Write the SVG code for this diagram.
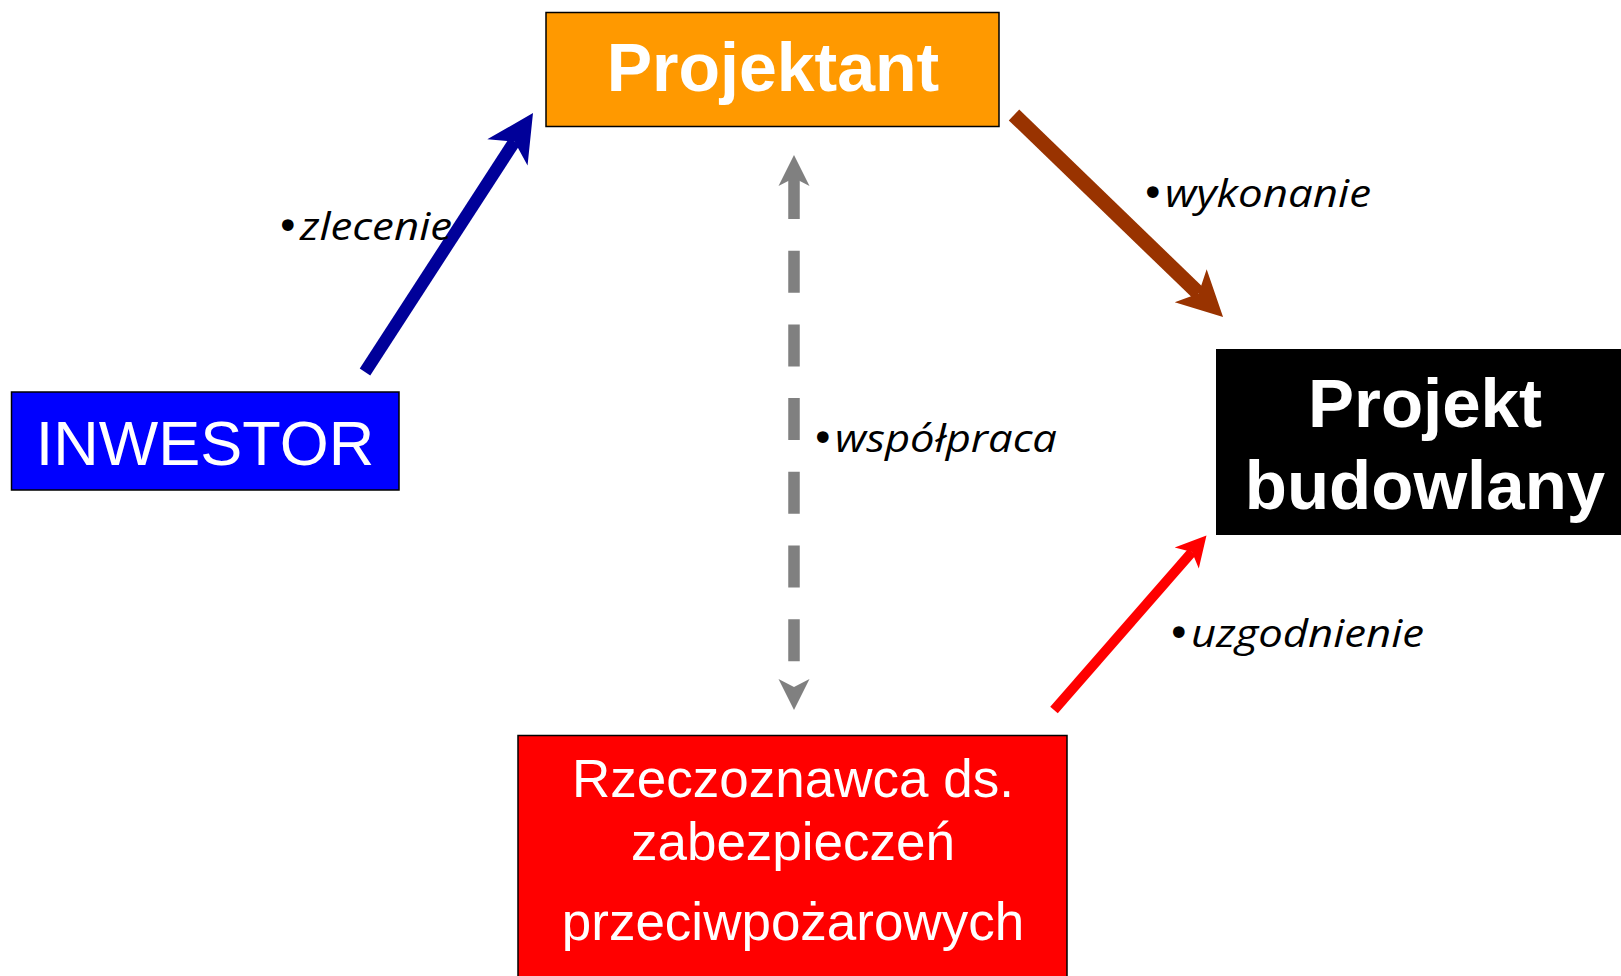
<svg xmlns="http://www.w3.org/2000/svg" width="1621" height="976" viewBox="0 0 1621 976">
<style>
.box{stroke:#000;stroke-width:1.5}
.nb{font-family:"Liberation Sans",Arial,sans-serif;font-weight:bold;fill:#fff;text-anchor:middle}
.nr{font-family:"Liberation Sans",Arial,sans-serif;fill:#fff;text-anchor:middle}
.lbl{font-family:"Open Sans","Noto Sans",sans-serif;font-style:italic;font-size:38px;fill:#000}
.bul{font-family:"DejaVu Sans",sans-serif;font-style:normal;font-size:40px}
</style>
<defs>
<marker id="mBlue" markerUnits="userSpaceOnUse" markerWidth="48" markerHeight="50" viewBox="0 -25 48 50" refX="13" refY="0" orient="auto" overflow="visible">
<path d="M0,-24 L47,0 L0,24 L13,0 Z" fill="#000099"/>
</marker>
<marker id="mBrown" markerUnits="userSpaceOnUse" markerWidth="46" markerHeight="48" viewBox="0 -24 46 48" refX="11" refY="0" orient="auto" overflow="visible">
<path d="M0,-23 L45,0 L0,23 L11,0 Z" fill="#993300"/>
</marker>
<marker id="mGray" markerUnits="userSpaceOnUse" markerWidth="32" markerHeight="32" viewBox="0 -16 32 32" refX="8" refY="0" orient="auto-start-reverse" overflow="visible">
<path d="M0,-15.5 L31,0 L0,15.5 L8,0 Z" fill="#808080"/>
</marker>
<marker id="mRed" markerUnits="userSpaceOnUse" markerWidth="31" markerHeight="34" viewBox="0 -17 31 34" refX="8" refY="0" orient="auto" overflow="visible">
<path d="M0,-16 L30,0 L0,16 L8,0 Z" fill="#FF0000"/>
</marker>
</defs>
<rect width="1621" height="976" fill="#fff"/>

<g id="connectors" fill="none">
<line x1="365" y1="372" x2="514.5" y2="141.5" stroke="#000099" stroke-width="12.5" marker-end="url(#mBlue)"/>
<line x1="1014" y1="115" x2="1198.6" y2="293.4" stroke="#993300" stroke-width="15" marker-end="url(#mBrown)"/>
<line x1="794" y1="178" x2="794" y2="687" stroke="#808080" stroke-width="11.5" stroke-dasharray="42 31.7" stroke-dashoffset="1" marker-start="url(#mGray)" marker-end="url(#mGray)"/>
<line x1="1054" y1="710" x2="1192" y2="552" stroke="#FF0000" stroke-width="10" marker-end="url(#mRed)"/>
</g>

<g id="labels">
<text class="lbl" x="276" y="240"><tspan class="bul">•</tspan><tspan x="300" textLength="152" lengthAdjust="spacingAndGlyphs">zlecenie</tspan></text>
<text class="lbl" x="1141" y="207"><tspan class="bul">•</tspan><tspan x="1165" textLength="206" lengthAdjust="spacingAndGlyphs">wykonanie</tspan></text>
<text class="lbl" x="811" y="452"><tspan class="bul">•</tspan><tspan x="835" textLength="222" lengthAdjust="spacingAndGlyphs">współpraca</tspan></text>
<text class="lbl" x="1167" y="647"><tspan class="bul">•</tspan><tspan x="1191" textLength="233" lengthAdjust="spacingAndGlyphs">uzgodnienie</tspan></text>
</g>

<g id="projektant">
<rect class="box" x="546" y="12.5" width="453" height="114" fill="#FF9900"/>
<text class="nb" x="773" y="91" font-size="68">Projektant</text>
</g>

<g id="inwestor">
<rect class="box" x="11.5" y="392" width="387.5" height="98" fill="#0000FF"/>
<text class="nr" x="205" y="465" font-size="63">INWESTOR</text>
</g>

<g id="projekt-budowlany">
<rect x="1216" y="349" width="410" height="186" fill="#000"/>
<text class="nb" x="1425" y="427" font-size="69">Projekt</text>
<text class="nb" x="1425" y="509" font-size="69">budowlany</text>
</g>

<g id="rzeczoznawca">
<rect class="box" x="518" y="735.5" width="549" height="245" fill="#FF0000"/>
<text class="nr" x="793" y="797" font-size="53">Rzeczoznawca ds.</text>
<text class="nr" x="793" y="860" font-size="53">zabezpieczeń</text>
<text class="nr" x="793" y="940" font-size="53">przeciwpożarowych</text>
</g>
</svg>
